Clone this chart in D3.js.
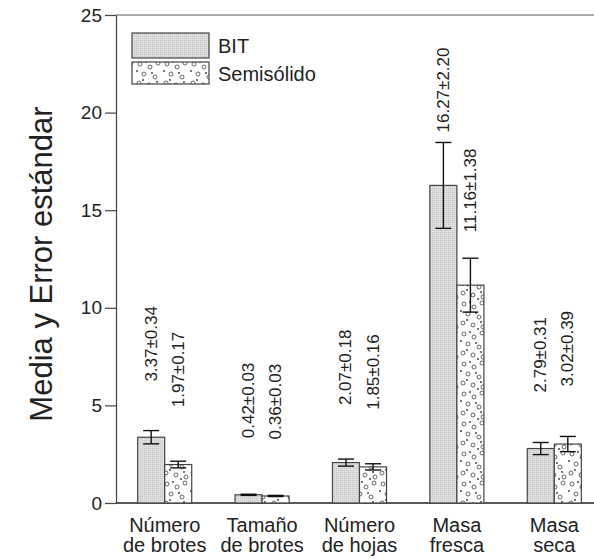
<!DOCTYPE html>
<html lang="es">
<head>
<meta charset="UTF-8">
<title>Media y Error estándar</title>
<script src="https://cdn.jsdelivr.net/npm/d3@7"></script>
<style>
  body { margin: 0; background: #fff; }
  svg { display: block; font-family: "Liberation Sans", Arial, sans-serif; }
</style>
</head>
<body>
<div id="chart"></div>
<script>
// data
const categories = [["Número", "de brotes"], ["Tamaño", "de brotes"], ["Número", "de hojas"], ["Masa", "fresca"], ["Masa", "seca"]];
const series = ["BIT", "Semisólido"];
const bitMean = [3.37, 0.42, 2.07, 16.27, 2.79];
const bitErr = [0.34, 0.03, 0.18, 2.20, 0.31];
const semiMean = [1.97, 0.36, 1.85, 11.16, 3.02];
const semiErr = [0.17, 0.03, 0.16, 1.38, 0.39];
const yTicks = [0, 5, 10, 15, 20, 25];

const W = 594, H = 559;
const x0 = 116, yBottom = 503, yTop = 15;

// gap (px) between top of error bar and the start of each value label
const labelGap = [[49, 54], [56, 56], [54, 54], [10, 26], [50, 50]];

const svg = d3.select("#chart").append("svg")
  .attr("width", W).attr("height", H);

const defs = svg.append("defs");

// fine grey stipple for BIT
const pBit = defs.append("pattern").attr("id", "pBit")
  .attr("patternUnits", "userSpaceOnUse").attr("width", 2).attr("height", 2);
pBit.append("rect").attr("width", 2).attr("height", 2).attr("fill", "#dadada");
pBit.append("rect").attr("width", 1).attr("height", 1).attr("fill", "#cbcbcb");
pBit.append("rect").attr("x", 1).attr("y", 1).attr("width", 1).attr("height", 1).attr("fill", "#e2e2e2");

// white with small circles and dots for Semisólido
const pSemi = defs.append("pattern").attr("id", "pSemi")
  .attr("patternUnits", "userSpaceOnUse").attr("width", 27).attr("height", 30);
pSemi.append("rect").attr("width", 27).attr("height", 30).attr("fill", "#fff");
const circ = [[5, 4], [15, 7], [23, 3], [9, 14], [20, 17], [4, 23], [14, 25], [24, 27]];
const dots = [[11, 2], [2, 11], [17, 13], [8, 20], [22, 22], [19, 29]];
pSemi.selectAll("circle.c").data(circ).join("circle")
  .attr("cx", d => d[0]).attr("cy", d => d[1]).attr("r", 2)
  .attr("fill", "none").attr("stroke", "#555").attr("stroke-width", 0.9);
pSemi.selectAll("circle.d").data(dots).join("circle")
  .attr("cx", d => d[0]).attr("cy", d => d[1]).attr("r", 0.9)
  .attr("fill", "#333");

const x = d3.scaleBand().domain(d3.range(categories.length))
  .range([x0, x0 + 487]).paddingInner(0.445).paddingOuter(0.2225);
const xs = d3.scaleBand().domain([0, 1]).range([0, x.bandwidth()]);
const y = d3.scaleLinear().domain([0, 25]).range([yBottom, yTop]);

// top frame line
svg.append("line").attr("x1", x0).attr("x2", W).attr("y1", yTop).attr("y2", yTop)
  .attr("stroke", "#555").attr("stroke-width", 1.2);

// y axis
const yAxis = svg.append("g").attr("transform", `translate(${x0},0)`)
  .call(d3.axisLeft(y).tickValues(yTicks).tickSize(11).tickPadding(3).tickSizeOuter(0));
yAxis.select(".domain").attr("stroke", "#444").attr("stroke-width", 1.2);
yAxis.selectAll(".tick line").attr("stroke", "#444").attr("stroke-width", 1.2);
yAxis.selectAll(".tick text").attr("font-size", 19).attr("fill", "#222")
  .attr("font-family", "Liberation Sans, Arial, sans-serif");

// x axis line
svg.append("line").attr("x1", x0).attr("x2", W).attr("y1", yBottom).attr("y2", yBottom)
  .attr("stroke", "#222").attr("stroke-width", 1.5);

// y title
svg.append("text")
  .attr("transform", `translate(41,${(yTop + yBottom) / 2 + 5}) rotate(-90)`)
  .attr("text-anchor", "middle").attr("dominant-baseline", "central")
  .attr("font-size", 31).attr("fill", "#222")
  .text("Media y Error estándar");

// rows for each bar
const rows = [];
categories.forEach((c, i) => {
  rows.push({ g: i, s: 0, m: bitMean[i], e: bitErr[i] });
  rows.push({ g: i, s: 1, m: semiMean[i], e: semiErr[i] });
});

const bars = svg.append("g");
bars.selectAll("rect").data(rows).join("rect")
  .attr("x", d => x(d.g) + xs(d.s))
  .attr("y", d => y(d.m))
  .attr("width", xs.bandwidth())
  .attr("height", d => y(0) - y(d.m))
  .attr("fill", d => d.s === 0 ? "url(#pBit)" : "url(#pSemi)")
  .attr("stroke", "#444").attr("stroke-width", 1.2);

// error bars
const cx = d => x(d.g) + xs(d.s) + xs.bandwidth() / 2;
const eb = svg.append("g").attr("stroke", "#111").attr("stroke-width", 1.4);
eb.selectAll("line.v").data(rows).join("line")
  .attr("x1", cx).attr("x2", cx)
  .attr("y1", d => y(d.m + d.e)).attr("y2", d => y(d.m - d.e));
eb.selectAll("line.t").data(rows).join("line")
  .attr("x1", d => cx(d) - 8).attr("x2", d => cx(d) + 8)
  .attr("y1", d => y(d.m + d.e)).attr("y2", d => y(d.m + d.e));
eb.selectAll("line.b").data(rows).join("line")
  .attr("x1", d => cx(d) - 8).attr("x2", d => cx(d) + 8)
  .attr("y1", d => y(d.m - d.e)).attr("y2", d => y(d.m - d.e));

// value labels
svg.append("g").selectAll("text").data(rows).join("text")
  .attr("transform", d => `translate(${cx(d)},${y(d.m + d.e) - labelGap[d.g][d.s]}) rotate(-90)`)
  .attr("text-anchor", "start").attr("dominant-baseline", "central")
  .attr("font-size", 17).attr("fill", "#222")
  .text(d => d.m.toFixed(2) + "±" + d.e.toFixed(2));

// category labels
const cl = svg.append("g").selectAll("text").data(categories).join("text")
  .attr("x", (d, i) => x(i) + x.bandwidth() / 2)
  .attr("y", 532)
  .attr("text-anchor", "middle").attr("font-size", 20).attr("fill", "#222");
cl.append("tspan").text(d => d[0]);
cl.append("tspan").attr("x", (d, i) => x(i) + x.bandwidth() / 2).attr("dy", 20).text(d => d[1]);

// legend
const lg = svg.append("g");
series.forEach((s, i) => {
  const ly = 33 + i * 29;
  lg.append("rect").attr("x", 132).attr("y", ly).attr("width", 77).attr("height", i === 0 ? 25 : 22)
    .attr("fill", i === 0 ? "url(#pBit)" : "url(#pSemi)")
    .attr("stroke", "#444").attr("stroke-width", 1.2);
  lg.append("text").attr("x", 218).attr("y", ly + 20 - i * 1)
    .attr("font-size", 20).attr("fill", "#222").text(s);
});
</script>
</body>
</html>
